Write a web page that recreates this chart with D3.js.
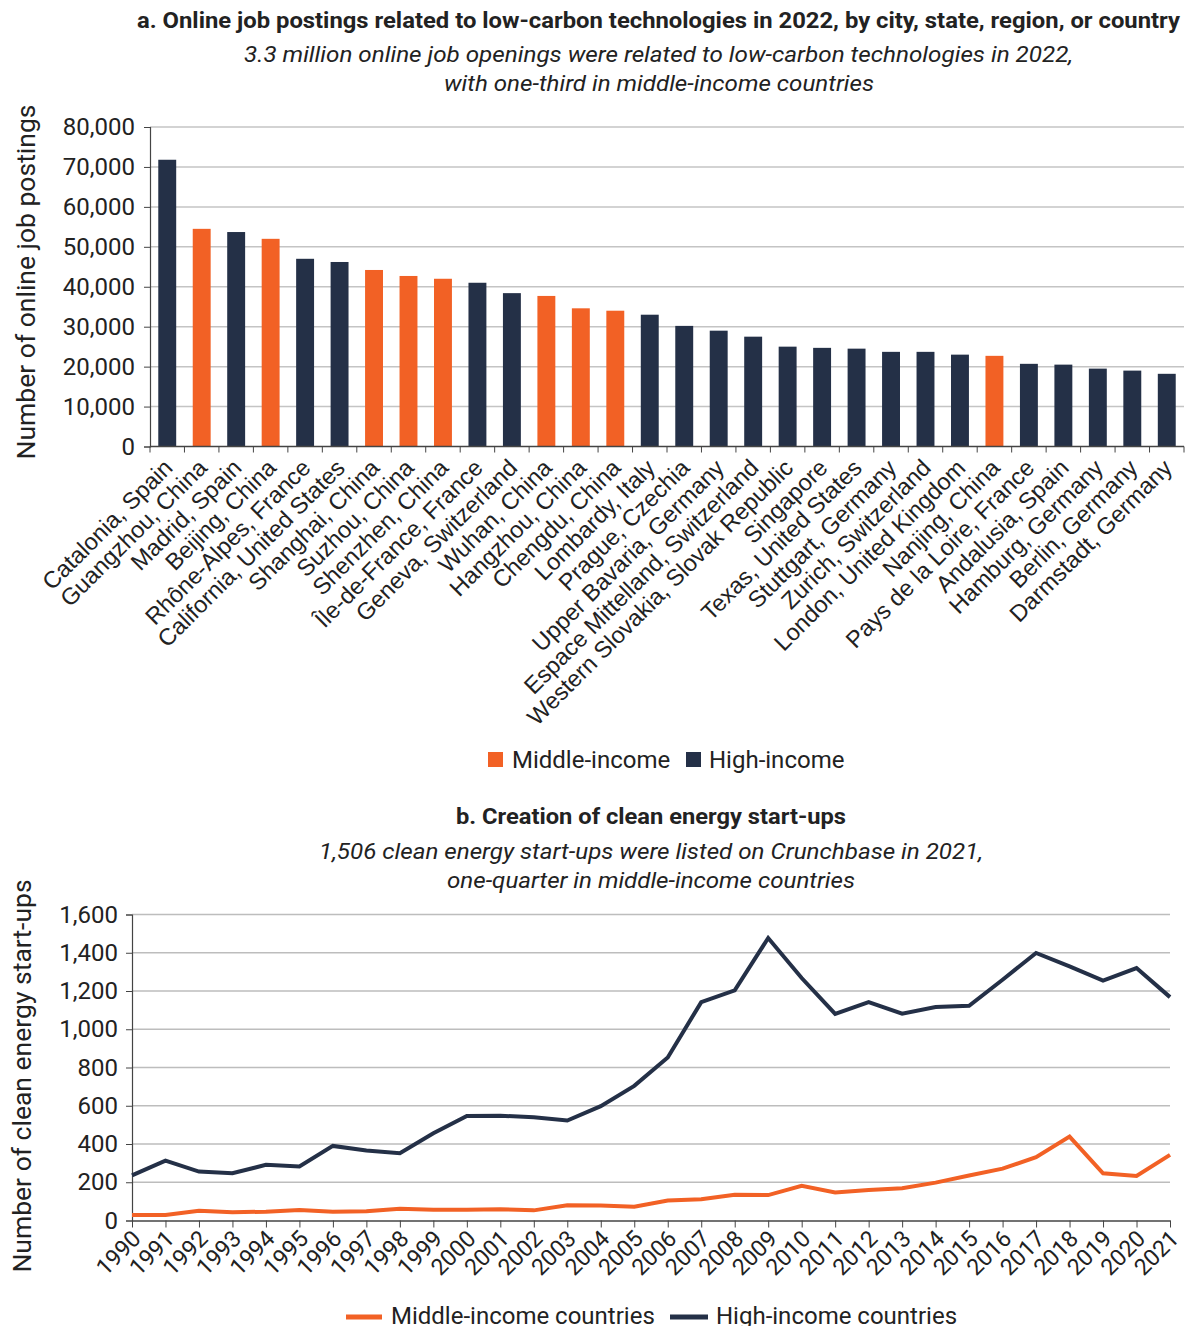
<!DOCTYPE html>
<html><head><meta charset="utf-8">
<script src="https://cdn.jsdelivr.net/npm/d3@7"></script>
<style>
body{margin:0;background:#fff;}
text{font-family:Roboto,"Noto Sans",sans-serif;fill:#222;}
</style></head>
<body><svg id="c" width="1187" height="1326"></svg>
<script>
// ---- Panel a data ----
const places = ["Catalonia, Spain","Guangzhou, China","Madrid, Spain","Beijing, China","Rhône-Alpes, France","California, United States","Shanghai, China","Suzhou, China","Shenzhen, China","Île-de-France, France","Geneva, Switzerland","Wuhan, China","Hangzhou, China","Chengdu, China","Lombardy, Italy","Prague, Czechia","Upper Bavaria, Germany","Espace Mittelland, Switzerland","Western Slovakia, Slovak Republic","Singapore","Texas, United States","Stuttgart, Germany","Zurich, Switzerland","London, United Kingdom","Nanjing, China","Pays de la Loire, France","Andalusia, Spain","Hamburg, Germany","Berlin, Germany","Darmstadt, Germany"];
const postings = [71800,54500,53700,52000,47000,46200,44200,42700,42000,41000,38400,37700,34600,34000,33000,30200,29000,27500,25000,24700,24500,23700,23700,23000,22700,20700,20500,19500,19000,18200];
const incomeGroup = ["H","M","H","M","H","H","M","M","M","H","H","M","M","M","H","H","H","H","H","H","H","H","H","H","M","H","H","H","H","H"];
const postingTicks = [0,10000,20000,30000,40000,50000,60000,70000,80000];
const groupLabels = {M:"Middle-income",H:"High-income"};

// ---- Panel b data ----
const years = [1990,1991,1992,1993,1994,1995,1996,1997,1998,1999,2000,2001,2002,2003,2004,2005,2006,2007,2008,2009,2010,2011,2012,2013,2014,2015,2016,2017,2018,2019,2020,2021];
const middleStartups = [29,29,51,43,46,55,46,49,62,56,56,59,53,80,78,72,104,111,135,133,181,146,160,169,198,235,271,331,439,247,233,343];
const highStartups = [236,313,256,247,291,282,390,366,352,456,547,548,540,523,598,704,852,1142,1203,1477,1268,1080,1142,1081,1116,1123,1259,1399,1329,1254,1320,1168];
const startupTicks = [0,200,400,600,800,1000,1200,1400,1600];

const ORANGE = "#F26125", NAVY = "#243047";
const col = {M:ORANGE, H:NAVY};
const svg = d3.select("#c");
const fmt = d3.format(",");

function title(x,y,t,len,style){
  const el = svg.append("text").attr("x",x).attr("y",y).attr("text-anchor","middle")
    .style("font-size","22px").attr("textLength",len).attr("lengthAdjust","spacingAndGlyphs").text(t);
  if(style==="b") el.style("font-weight","bold"); else el.style("font-style","italic");
  return el;
}

// ================= Panel a =================
title(658.5,28,"a. Online job postings related to low-carbon technologies in 2022, by city, state, region, or country",1043,"b");
title(658.5,62,"3.3 million online job openings were related to low-carbon technologies in 2022,",829,"i");
title(659,91,"with one-third in middle-income countries",430,"i");

const xa = d3.scaleBand().domain(places).range([150,1184]).paddingInner(0.48).paddingOuter(0.24);
const ya = d3.scaleLinear().domain([0,80000]).range([446.5,127]);

const ga = svg.append("g");
ga.selectAll("line.grid").data(postingTicks.slice(1)).join("line")
  .attr("x1",150).attr("x2",1184).attr("y1",d=>ya(d)).attr("y2",d=>ya(d))
  .attr("stroke","#c4c4c4").attr("stroke-width",1.5);
ga.selectAll("rect").data(places).join("rect")
  .attr("x",d=>xa(d)).attr("width",xa.bandwidth())
  .attr("y",(d,i)=>ya(postings[i])).attr("height",(d,i)=>ya(0)-ya(postings[i]))
  .attr("fill",(d,i)=>col[incomeGroup[i]]);

const yAxA = svg.append("g").attr("transform","translate(150,0)")
  .call(d3.axisLeft(ya).tickValues(postingTicks).tickFormat(fmt).tickSize(6).tickPadding(9));
yAxA.select(".domain").attr("stroke","#444").attr("stroke-width",1.2);
yAxA.selectAll(".tick line").attr("stroke","#444");
yAxA.selectAll("text").style("font-size","24px").style("font-family","Roboto").attr("fill","#222");

// bottom axis with boundary ticks
const xBound = d3.range(places.length+1).map(i=>150+i*(1034/places.length));
const ba = svg.append("g");
ba.append("line").attr("x1",150).attr("x2",1184).attr("y1",ya(0)).attr("y2",ya(0)).attr("stroke","#444").attr("stroke-width",1.5);
ba.selectAll("line.t").data(xBound).join("line").attr("class","t")
  .attr("x1",d=>d).attr("x2",d=>d).attr("y1",ya(0)).attr("y2",ya(0)+6).attr("stroke","#444");
ba.selectAll("text").data(places).join("text")
  .attr("transform",d=>`translate(${xa(d)+xa.bandwidth()/2+1},${ya(0)+17}) rotate(-45)`)
  .attr("text-anchor","end").attr("dy","0.35em")
  .style("font-family","'Liberation Sans',Arial,sans-serif").style("font-size","23.5px").attr("fill","#222")
  .text(d=>d);

svg.append("text").attr("transform","translate(35,282) rotate(-90)").attr("text-anchor","middle")
  .style("font-size","26.5px").text("Number of online job postings");

// legend a
const legA = svg.append("g");
[["M",488,512],["H",686,709]].forEach(([k,sx,tx])=>{
  legA.append("rect").attr("x",sx).attr("y",752).attr("width",15).attr("height",15).attr("fill",col[k]);
  legA.append("text").attr("x",tx).attr("y",768).style("font-size","24px").text(groupLabels[k]);
});

// ================= Panel b =================
title(651,824,"b. Creation of clean energy start-ups",390,"b");
title(651,859,"1,506 clean energy start-ups were listed on Crunchbase in 2021,",664,"i");
title(651,888,"one-quarter in middle-income countries",408,"i");

const xb = d3.scaleLinear().domain([1990,2021]).range([132,1170]);
const yb = d3.scaleLinear().domain([0,1600]).range([1220.5,914.5]);

svg.append("g").selectAll("line").data(startupTicks.slice(1)).join("line")
  .attr("x1",132).attr("x2",1170).attr("y1",d=>yb(d)).attr("y2",d=>yb(d))
  .attr("stroke","#bdbdbd").attr("stroke-width",1.5);

const yAxB = svg.append("g").attr("transform","translate(132,0)")
  .call(d3.axisLeft(yb).tickValues(startupTicks).tickFormat(fmt).tickSize(6).tickPadding(8));
yAxB.select(".domain").attr("stroke","#444").attr("stroke-width",1.2);
yAxB.selectAll(".tick line").attr("stroke","#444");
yAxB.selectAll("text").style("font-size","24px").style("font-family","Roboto").attr("fill","#222");

const xAxB = svg.append("g").attr("transform",`translate(0,${yb(0)})`)
  .call(d3.axisBottom(xb).tickValues(years).tickFormat(d=>String(d)).tickSize(7).tickSizeOuter(0));
xAxB.select(".domain").attr("stroke","#444").attr("stroke-width",1.5);
xAxB.selectAll(".tick line").attr("stroke","#444");
xAxB.selectAll("text").attr("transform","translate(4,14) rotate(-45)").attr("text-anchor","end")
  .attr("x",0).attr("y",0).attr("dy","0.35em")
  .style("font-size","23px").style("font-family","Roboto").attr("fill","#222");

const line = d3.line().x((d,i)=>xb(years[i])).y(d=>yb(d));
svg.append("path").datum(middleStartups).attr("d",line).attr("fill","none").attr("stroke",ORANGE).attr("stroke-width",4).attr("stroke-linejoin","miter");
svg.append("path").datum(highStartups).attr("d",line).attr("fill","none").attr("stroke",NAVY).attr("stroke-width",4).attr("stroke-linejoin","miter");

svg.append("text").attr("transform","translate(31,1076) rotate(-90)").attr("text-anchor","middle")
  .style("font-size","26.5px").text("Number of clean energy start-ups");

const legB = svg.append("g");
[[ORANGE,346,382,391,"Middle-income countries"],[NAVY,670,708,716,"High-income countries"]].forEach(([c,x1,x2,tx,t])=>{
  legB.append("line").attr("x1",x1).attr("x2",x2).attr("y1",1317).attr("y2",1317).attr("stroke",c).attr("stroke-width",5);
  legB.append("text").attr("x",tx).attr("y",1324).style("font-size","24px").text(t);
});
</script></body></html>
